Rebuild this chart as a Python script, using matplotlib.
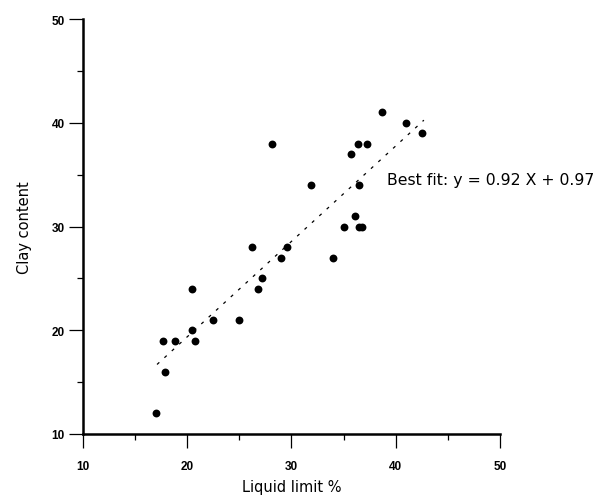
import matplotlib
matplotlib.use("Agg")
import matplotlib.pyplot as plt
import numpy as np
from matplotlib.ticker import MultipleLocator

# liquid limit (x) vs clay content (y)
liquid_limit = [17.0, 17.9, 17.7, 18.8, 20.7, 20.5, 22.5, 25.0, 20.45, 26.75,
                27.2, 26.2, 29.6, 29.0, 34.0, 35.05, 36.5, 36.8, 36.05, 31.85,
                36.5, 35.7, 28.1, 36.4, 37.2, 38.7, 41.0, 42.5]
clay_content = [12, 16, 19, 19, 19, 20, 21, 21, 24, 24,
                25, 28, 28, 27, 27, 30, 30, 30, 31, 34,
                34, 37, 38, 38, 38, 41, 40, 39]

slope = 0.92
intercept = 0.97
fit_x = [17.1, 42.7]

fig = plt.figure(figsize=(6.14, 5.02), dpi=100)
ax = fig.add_axes([0.1352, 0.1335, 0.6791, 0.8265])

ax.scatter(liquid_limit, clay_content, s=32, color="black", zorder=3, linewidths=0)

fx = np.array(fit_x)
ax.plot(fx, slope * fx + intercept, color="black", lw=0.9, linestyle=(0, (2.5, 5.5)))

ax.text(39.15, 34.5, "Best fit: y = 0.92 X + 0.97", fontsize=11.3, va="center", ha="left",
        family="DejaVu Sans")

ax.set_xlim(10, 50)
ax.set_ylim(10, 50)
for side in ["top", "right"]:
    ax.spines[side].set_visible(False)
for side in ["left", "bottom"]:
    ax.spines[side].set_linewidth(1.8)

ax.xaxis.set_major_locator(MultipleLocator(10))
ax.xaxis.set_minor_locator(MultipleLocator(5))
ax.yaxis.set_major_locator(MultipleLocator(10))
ax.yaxis.set_minor_locator(MultipleLocator(5))
ax.tick_params(which="major", direction="out", length=10, width=0.9)
ax.tick_params(which="minor", direction="out", length=4.5, width=0.9)
ax.tick_params(axis="x", which="major", pad=9)
ax.tick_params(axis="y", which="major", pad=3)
for lab in ax.get_xticklabels() + ax.get_yticklabels():
    lab.set_fontsize(8.5)
    lab.set_fontweight("bold")
    lab.set_family("Liberation Sans")

ax.set_xlabel("Liquid limit %", fontsize=10.5, labelpad=5)
ax.set_ylabel("Clay content", fontsize=10.5, labelpad=14)

fig.savefig("out.png", dpi=100)
